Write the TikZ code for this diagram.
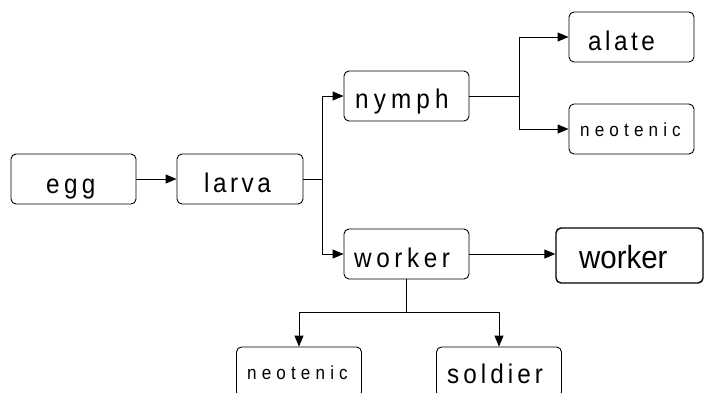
\documentclass[tikz,border=0pt]{standalone}
\usepackage{fontspec}
\setmainfont{Liberation Sans}
\newfontfamily\narrowsans[FakeStretch=0.9]{Liberation Sans}
\newfontfamily\wkfont[FakeStretch=0.92]{Liberation Sans}
\usetikzlibrary{arrows.meta}
\newcommand\lsp[3]{{\narrowsans\fontsize{#1}{#1}\selectfont\addfontfeature{LetterSpace=#2}#3}}
\begin{document}
\begin{tikzpicture}[x=1pt,y=-1pt,
  box/.style={draw, rounded corners=5pt, line width=0.9pt, inner sep=0pt,
    minimum width=125pt, minimum height=50pt},
  lab/.style={anchor=base west, inner sep=0pt},
  conn/.style={line width=0.9pt},
  arr/.style={conn, -{Triangle[length=11pt,width=9pt]}}]
\useasboundingbox (0,0) rectangle (705,392);
\clip (0,0) rectangle (705,392);
\node[box, minimum width=125pt] (egg) at (73.5,179) {};
\node[lab] (eggt) at (46,193) {\lsp{27}{16}{egg}};
\node[box, minimum width=126pt] (larva) at (240,179) {};
\node[lab] (larvat) at (204,192) {\lsp{27}{13}{larva}};
\node[box] (nymph) at (406.5,96) {};
\node[lab] (nympht) at (355,108) {\lsp{27}{19}{nymph}};
\node[box] (alate) at (631.5,37) {};
\node[lab] (alatet) at (588,50) {\lsp{27}{13}{alate}};
\node[box] (neo1) at (631.5,129) {};
\node[lab] (neo1t) at (580,136) {\lsp{19}{27}{neotenic}};
\node[box] (w1) at (406.5,254) {};
\node[lab] (w1t) at (354,267) {\lsp{27}{17}{worker}};
\node[box, minimum width=147pt, minimum height=55pt, line width=1.4pt] (w2) at (629.5,255.5) {};
\node[lab] (w2t) at (579,268) {\wkfont\fontsize{32}{32}\selectfont worker};
\node[box] (neo2) at (299,372) {};
\node[lab] (neo2t) at (247,379) {\lsp{19}{27}{neotenic}};
\node[box] (sold) at (499,372) {};
\node[lab] (soldt) at (447,383) {\lsp{27}{15}{soldier}};
\coordinate (j1) at (322,179);
\coordinate (j2) at (519,96);
\coordinate (j3) at (406.5,312);
\draw[arr] (egg) -- (larva);
\draw[conn] (larva.east) -- (j1);
\draw[arr] (j1) |- (nymph.west);
\draw[arr] (j1) |- (w1.west);
\draw[conn] (nymph.east) -- (j2);
\draw[arr] (j2) |- (alate.west);
\draw[arr] (j2) |- (neo1.west);
\draw[arr] (w1.east) -- (w1.east -| w2.west);
\draw[conn] (w1.south) -- (j3);
\draw[arr] (j3) -| (neo2.north);
\draw[arr] (j3) -| (sold.north);
\end{tikzpicture}
\end{document}
